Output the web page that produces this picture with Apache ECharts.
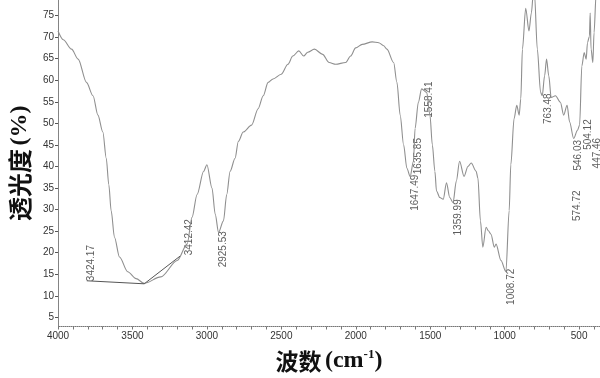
<!DOCTYPE html>
<html>
<head>
<meta charset="utf-8">
<script src="https://cdn.jsdelivr.net/npm/echarts@6/dist/echarts.min.js"></script>
<style>
  html, body { margin: 0; padding: 0; background: #fff; }
  #container { width: 600px; height: 378px; }
</style>
</head>
<body>
<div id="container"></div>
<script>
// spectrum: wavenumber (cm-1) and transmittance (%)
var waveNumbers = [4000, 3965, 3909, 3865, 3809, 3765, 3732, 3699, 3676, 3659, 3643, 3621, 3587, 3532, 3476, 3421,
    3310, 3199, 3133, 3100, 3066, 3022, 3000, 2966, 2944, 2922, 2889, 2867, 2844, 2811, 2789, 2756, 2700, 2656,
    2622, 2589, 2556, 2501, 2456, 2423, 2383, 2350, 2323, 2278, 2223, 2179, 2135, 2068, 2035, 2001, 1957, 1890,
    1846, 1813, 1791, 1746, 1724, 1702, 1679, 1657, 1635, 1613, 1602, 1580, 1558, 1524, 1502, 1486, 1469, 1458,
    1436, 1413, 1391, 1369, 1347, 1325, 1303, 1273, 1247, 1225, 1192, 1180, 1163, 1147, 1125, 1110, 1092, 1070,
    1058, 1025, 992, 970, 959, 937, 919, 903, 892, 881, 859, 837, 821, 808, 800, 781, 759, 748, 732, 719, 704,
    688, 659, 626, 604, 581, 564, 537, 511, 497, 482, 466, 453, 444, 431, 426, 420, 408, 400, 386, 360];
var transmittance = [71.4, 69.4, 67.2, 64.9, 59.5, 56.4, 51.9, 48.0, 41.9, 35.8, 29.7, 23.6, 19.0, 15.6, 14.0, 12.9,
    14.4, 18.2, 22.0, 28.2, 33.5, 38.9, 40.4, 35.0, 28.9, 24.7, 27.4, 33.5, 38.9, 41.9, 45.8, 48.0, 49.6, 53.4,
    56.4, 59.5, 60.3, 61.4, 63.7, 65.6, 66.8, 65.6, 66.5, 67.2, 66.0, 64.1, 63.7, 64.1, 65.6, 67.5, 68.3, 68.9,
    68.7, 68.0, 67.2, 64.1, 59.5, 51.9, 45.0, 39.6, 37.7, 41.2, 48.8, 54.9, 58.0, 57.2, 51.9, 45.0, 38.9, 34.3,
    32.8, 32.4, 36.2, 32.8, 31.6, 36.6, 41.2, 37.7, 40.0, 40.8, 38.9, 37.3, 27.4, 21.3, 25.9, 25.1, 24.3, 21.3,
    22.0, 18.2, 15.6, 29.8, 40.4, 51.1, 54.2, 51.9, 55.7, 67.2, 76.7, 71.4, 75.6, 80, 80, 67.2, 57.2, 56.4, 61.0,
    64.9, 61.0, 56.0, 56.4, 54.9, 51.9, 54.2, 50.3, 46.5, 48.4, 49.6, 63.3, 66.4, 64.9, 68.7, 70.2, 75.6, 67.2,
    64.1, 71.0, 80, 80];

// baseline drawn under the broad O-H band
var baseX = [3807, 3421, 3181];
var baseY = [13.5, 12.8, 19.2];

// peak labels and where they sit
var peakLabels = ['3424.17', '3412.42', '2925.53', '1647.49', '1635.85', '1558.41', '1359.99', '1008.72',
    '763.48', '546.03', '504.12', '447.46', '574.72'];
var peakLabelX = [3774, 3122, 2889, 1604, 1580, 1504, 1311, 954, 706, 506, 440, 380, 513];
var peakLabelY = [17.6, 23.6, 20.8, 33.9, 42.4, 55.5, 28.2, 12.1, 53.4, 42.6, 47.4, 43.1, 30.9];

var yTicks = [5, 10, 15, 20, 25, 30, 35, 40, 45, 50, 55, 60, 65, 70, 75];
var xTicks = [500, 1000, 1500, 2000, 2500, 3000, 3500, 4000];
var xMinorTicks = [];
for (var t = 400; t <= 4000; t += 100) xMinorTicks.push(t);

var dom = document.getElementById('container');
var chart = echarts.init(dom);

var spectrum = waveNumbers.map(function (w, i) { return [w, transmittance[i]]; });
var baseline = baseX.map(function (w, i) { return [w, baseY[i]]; });
var peaks = peakLabels.map(function (txt, i) { return { value: [peakLabelX[i], peakLabelY[i]], name: txt }; });

chart.setOption({
    animation: false,
    grid: { left: 53, right: 0, top: 0, bottom: 48 },
    xAxis: {
        type: 'value', inverse: true, min: 360, max: 4000,
        name: '{zh|波数} {en|(cm}{sup|-1}{en|)}',
        nameLocation: 'middle', nameGap: 22,
        nameTextStyle: {
            rich: {
                zh: { fontFamily: 'Noto Sans CJK SC', fontWeight: 'bold', fontSize: 23, color: '#111' },
                en: { fontFamily: 'Liberation Serif', fontWeight: 'bold', fontSize: 24, color: '#111' },
                sup: { fontFamily: 'Liberation Serif', fontWeight: 'bold', fontSize: 13, color: '#111', padding: [0, 0, 12, 0] }
            }
        },
        splitLine: { show: false },
        axisLine: { lineStyle: { color: '#777', type: 'dotted' } },
        axisTick: { customValues: xMinorTicks, length: 3, lineStyle: { color: '#777' } },
        axisLabel: {
            customValues: xTicks, fontFamily: 'Liberation Sans', fontSize: 10, color: '#333', margin: 5,
            formatter: function (v) { return String(v); }
        }
    },
    yAxis: {
        type: 'value', min: 2.9, max: 78.6,
        name: '{zh|透光度} {en|(%)}',
        nameLocation: 'middle', nameRotate: 90, nameGap: 26,
        nameTextStyle: {
            rich: {
                zh: { fontFamily: 'Noto Sans CJK SC', fontWeight: 'bold', fontSize: 24, color: '#111' },
                en: { fontFamily: 'Liberation Serif', fontWeight: 'bold', fontSize: 24, color: '#111' }
            }
        },
        splitLine: { show: false },
        axisLine: { lineStyle: { color: '#777', type: 'dotted' } },
        axisTick: { customValues: yTicks, length: 3, lineStyle: { color: '#555' } },
        axisLabel: { customValues: yTicks, fontFamily: 'Liberation Sans', fontSize: 10, color: '#333', margin: 4 }
    },
    series: [
        {
            type: 'line', data: spectrum, symbol: 'none', clip: true,
            smooth: 0.3, smoothMonotone: 'x',
            lineStyle: { color: '#8f8f8f', width: 1.1 }
        },
        {
            type: 'line', data: baseline, symbol: 'none',
            lineStyle: { color: '#555', width: 1 }
        },
        {
            type: 'scatter', data: peaks, symbolSize: 0,
            label: {
                show: true, position: 'inside', rotate: 90,
                formatter: function (p) { return p.name; },
                fontFamily: 'Liberation Sans', fontSize: 10, color: '#333'
            }
        }
    ]
});
</script>
</body>
</html>
